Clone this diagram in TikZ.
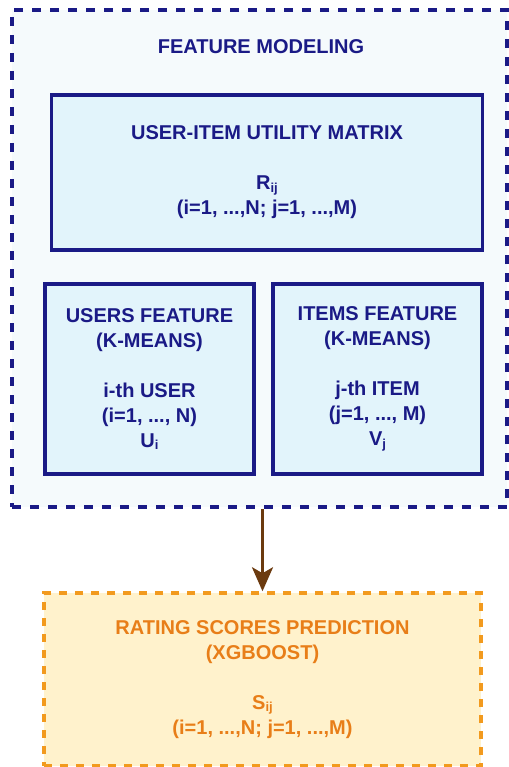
\documentclass[tikz,border=0pt]{standalone}
\usepackage{fontspec}
\setmainfont{Liberation Sans}
\usepackage{tikz}
\usetikzlibrary{arrows.meta,positioning}
\definecolor{fm-navy}{HTML}{1A1A86}
\definecolor{fm-pale}{HTML}{F5FAFC}
\definecolor{fm-cyan}{HTML}{E2F4FB}
\definecolor{xg-orange}{HTML}{F29A1E}
\definecolor{xg-text}{HTML}{E87E18}
\definecolor{xg-fill}{HTML}{FFF2CC}
\definecolor{xg-brown}{HTML}{6B3A0F}
\newcommand{\idx}[1]{\raisebox{-2.5pt}{\fontsize{13}{13}\selectfont #1}}

\begin{document}
\begin{tikzpicture}[x=1pt,y=-1pt,
    boxfont/.style={font=\fontsize{20}{25}\selectfont\bfseries,align=center},
    fmbox/.style={boxfont,draw=fm-navy,fill=fm-cyan,line width=3.5pt,text=fm-navy,inner sep=0pt},
  ]
  \useasboundingbox (0,0) rectangle (508,767);
  \node[draw=fm-navy,fill=fm-pale,line width=3.5pt,dash pattern=on 9pt off 9pt,
        minimum width=495pt,minimum height=497pt,inner sep=0pt] (fm) at (259.5,258.5) {};
  \node[boxfont,text=fm-navy] (fmtitle) at (261,47) {FEATURE MODELING};
  \node[fmbox,minimum width=431pt,minimum height=155pt] (matrix) at (267,172.5)
    {USER-ITEM UTILITY MATRIX\\[25pt] R\idx{ij}\\ (i=1, ...,N; j=1, ...,M)};
  \node[fmbox,minimum width=209pt,minimum height=190pt] (users) at (149.5,379)
    {USERS FEATURE\\ (K-MEANS)\\[25pt] i-th USER\\ (i=1, ..., N)\\ U\idx{i}};
  \node[fmbox,minimum width=209pt,minimum height=190pt] (items) at (377.5,379)
    {ITEMS FEATURE\\ (K-MEANS)\\[25pt] j-th ITEM\\ (j=1, ..., M)\\ V\idx{j}};
  \node[boxfont,draw=xg-orange,fill=xg-fill,line width=3.5pt,dash pattern=on 8pt off 8pt,
        text=xg-text,minimum width=437pt,minimum height=173pt,inner sep=0pt] (pred) at (262.5,679.5)
    {RATING SCORES PREDICTION\\ (XGBOOST)\\[25pt] S\idx{ij}\\ (i=1, ...,N; j=1, ...,M)};
  \draw[xg-brown,line width=3pt,-{Stealth[length=24pt,width=21pt,inset=6pt]}]
    (fm.south -| pred.north) -- (pred.north);
\end{tikzpicture}
\end{document}
